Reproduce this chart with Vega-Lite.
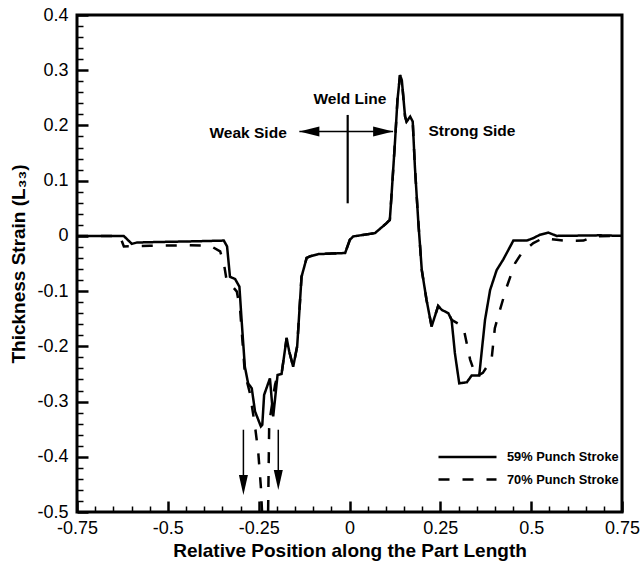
{
  "$schema": "https://vega.github.io/schema/vega-lite/v6.json",
  "width": 545,
  "height": 497,
  "autosize": {"type": "none"},
  "padding": {"left": 77, "top": 15, "right": 18, "bottom": 51},
  "config": {
    "font": "Liberation Sans",
    "view": {"stroke": "black", "strokeWidth": 3},
    "axis": {"grid": false, "domain": false, "ticks": true, "tickColor": "black", "tickOpacity": 1, "labelColor": "black", "titleColor": "black", "labelFont": "Liberation Sans", "titleFont": "Liberation Sans", "labelFlush": false, "zindex": 1}
  },
  "datasets": {
    "curves": [
      {"series": "59% Punch Stroke", "x": -0.75, "y": 0.0},
      {"series": "59% Punch Stroke", "x": -0.6215, "y": 0.0},
      {"series": "59% Punch Stroke", "x": -0.599, "y": -0.0145},
      {"series": "59% Punch Stroke", "x": -0.585, "y": -0.012},
      {"series": "59% Punch Stroke", "x": -0.522, "y": -0.011},
      {"series": "59% Punch Stroke", "x": -0.439, "y": -0.01},
      {"series": "59% Punch Stroke", "x": -0.346, "y": -0.0085},
      {"series": "59% Punch Stroke", "x": -0.337, "y": -0.019},
      {"series": "59% Punch Stroke", "x": -0.329, "y": -0.074},
      {"series": "59% Punch Stroke", "x": -0.315, "y": -0.078},
      {"series": "59% Punch Stroke", "x": -0.303, "y": -0.092},
      {"series": "59% Punch Stroke", "x": -0.297, "y": -0.152},
      {"series": "59% Punch Stroke", "x": -0.288, "y": -0.237},
      {"series": "59% Punch Stroke", "x": -0.279, "y": -0.267},
      {"series": "59% Punch Stroke", "x": -0.269, "y": -0.276},
      {"series": "59% Punch Stroke", "x": -0.26, "y": -0.318},
      {"series": "59% Punch Stroke", "x": -0.251, "y": -0.333},
      {"series": "59% Punch Stroke", "x": -0.244, "y": -0.345},
      {"series": "59% Punch Stroke", "x": -0.24, "y": -0.342},
      {"series": "59% Punch Stroke", "x": -0.235, "y": -0.288},
      {"series": "59% Punch Stroke", "x": -0.219, "y": -0.258},
      {"series": "59% Punch Stroke", "x": -0.21, "y": -0.327},
      {"series": "59% Punch Stroke", "x": -0.198, "y": -0.252},
      {"series": "59% Punch Stroke", "x": -0.187, "y": -0.25},
      {"series": "59% Punch Stroke", "x": -0.173, "y": -0.185},
      {"series": "59% Punch Stroke", "x": -0.166, "y": -0.209},
      {"series": "59% Punch Stroke", "x": -0.155, "y": -0.237},
      {"series": "59% Punch Stroke", "x": -0.144, "y": -0.2},
      {"series": "59% Punch Stroke", "x": -0.132, "y": -0.074},
      {"series": "59% Punch Stroke", "x": -0.118, "y": -0.04},
      {"series": "59% Punch Stroke", "x": -0.109, "y": -0.037},
      {"series": "59% Punch Stroke", "x": -0.086, "y": -0.033},
      {"series": "59% Punch Stroke", "x": -0.012, "y": -0.031},
      {"series": "59% Punch Stroke", "x": 0.001, "y": -0.007},
      {"series": "59% Punch Stroke", "x": 0.01, "y": -0.001},
      {"series": "59% Punch Stroke", "x": 0.07, "y": 0.005},
      {"series": "59% Punch Stroke", "x": 0.102, "y": 0.023},
      {"series": "59% Punch Stroke", "x": 0.111, "y": 0.029},
      {"series": "59% Punch Stroke", "x": 0.116, "y": 0.077},
      {"series": "59% Punch Stroke", "x": 0.125, "y": 0.168},
      {"series": "59% Punch Stroke", "x": 0.132, "y": 0.246},
      {"series": "59% Punch Stroke", "x": 0.139, "y": 0.291},
      {"series": "59% Punch Stroke", "x": 0.144, "y": 0.282},
      {"series": "59% Punch Stroke", "x": 0.153, "y": 0.216},
      {"series": "59% Punch Stroke", "x": 0.157, "y": 0.207},
      {"series": "59% Punch Stroke", "x": 0.167, "y": 0.216},
      {"series": "59% Punch Stroke", "x": 0.174, "y": 0.207},
      {"series": "59% Punch Stroke", "x": 0.18, "y": 0.125},
      {"series": "59% Punch Stroke", "x": 0.189, "y": 0.029},
      {"series": "59% Punch Stroke", "x": 0.199, "y": -0.062},
      {"series": "59% Punch Stroke", "x": 0.212, "y": -0.116},
      {"series": "59% Punch Stroke", "x": 0.226, "y": -0.164},
      {"series": "59% Punch Stroke", "x": 0.244, "y": -0.127},
      {"series": "59% Punch Stroke", "x": 0.254, "y": -0.134},
      {"series": "59% Punch Stroke", "x": 0.272, "y": -0.14},
      {"series": "59% Punch Stroke", "x": 0.281, "y": -0.152},
      {"series": "59% Punch Stroke", "x": 0.29, "y": -0.212},
      {"series": "59% Punch Stroke", "x": 0.302, "y": -0.267},
      {"series": "59% Punch Stroke", "x": 0.323, "y": -0.265},
      {"series": "59% Punch Stroke", "x": 0.336, "y": -0.253},
      {"series": "59% Punch Stroke", "x": 0.357, "y": -0.253},
      {"series": "59% Punch Stroke", "x": 0.373, "y": -0.152},
      {"series": "59% Punch Stroke", "x": 0.387, "y": -0.098},
      {"series": "59% Punch Stroke", "x": 0.405, "y": -0.062},
      {"series": "59% Punch Stroke", "x": 0.423, "y": -0.043},
      {"series": "59% Punch Stroke", "x": 0.451, "y": -0.0085},
      {"series": "59% Punch Stroke", "x": 0.488, "y": -0.0085},
      {"series": "59% Punch Stroke", "x": 0.506, "y": -0.004},
      {"series": "59% Punch Stroke", "x": 0.524, "y": 0.002},
      {"series": "59% Punch Stroke", "x": 0.547, "y": 0.006},
      {"series": "59% Punch Stroke", "x": 0.57, "y": 0.0},
      {"series": "59% Punch Stroke", "x": 0.69, "y": 0.001},
      {"series": "59% Punch Stroke", "x": 0.75, "y": 0.0},
      {"series": "70% Punch Stroke", "x": -0.75, "y": 0.0},
      {"series": "70% Punch Stroke", "x": -0.632, "y": 0.0},
      {"series": "70% Punch Stroke", "x": -0.621, "y": -0.019},
      {"series": "70% Punch Stroke", "x": -0.549, "y": -0.018},
      {"series": "70% Punch Stroke", "x": -0.45, "y": -0.017},
      {"series": "70% Punch Stroke", "x": -0.383, "y": -0.018},
      {"series": "70% Punch Stroke", "x": -0.356, "y": -0.028},
      {"series": "70% Punch Stroke", "x": -0.346, "y": -0.049},
      {"series": "70% Punch Stroke", "x": -0.339, "y": -0.077},
      {"series": "70% Punch Stroke", "x": -0.333, "y": -0.083},
      {"series": "70% Punch Stroke", "x": -0.31, "y": -0.101},
      {"series": "70% Punch Stroke", "x": -0.301, "y": -0.134},
      {"series": "70% Punch Stroke", "x": -0.288, "y": -0.249},
      {"series": "70% Punch Stroke", "x": -0.274, "y": -0.285},
      {"series": "70% Punch Stroke", "x": -0.26, "y": -0.345},
      {"series": "70% Punch Stroke", "x": -0.251, "y": -0.393},
      {"series": "70% Punch Stroke", "x": -0.244, "y": -0.454},
      {"series": "70% Punch Stroke", "x": -0.239, "y": -0.523},
      {"series": "70% Punch Stroke", "x": -0.231, "y": -0.532},
      {"series": "70% Punch Stroke", "x": -0.224, "y": -0.5},
      {"series": "70% Punch Stroke", "x": -0.221, "y": -0.339},
      {"series": "70% Punch Stroke", "x": -0.214, "y": -0.309},
      {"series": "70% Punch Stroke", "x": -0.205, "y": -0.27},
      {"series": "70% Punch Stroke", "x": -0.198, "y": -0.252},
      {"series": "70% Punch Stroke", "x": -0.187, "y": -0.25},
      {"series": "70% Punch Stroke", "x": -0.173, "y": -0.185},
      {"series": "70% Punch Stroke", "x": -0.166, "y": -0.209},
      {"series": "70% Punch Stroke", "x": -0.155, "y": -0.237},
      {"series": "70% Punch Stroke", "x": -0.144, "y": -0.2},
      {"series": "70% Punch Stroke", "x": -0.132, "y": -0.074},
      {"series": "70% Punch Stroke", "x": -0.118, "y": -0.04},
      {"series": "70% Punch Stroke", "x": -0.109, "y": -0.037},
      {"series": "70% Punch Stroke", "x": -0.086, "y": -0.033},
      {"series": "70% Punch Stroke", "x": -0.012, "y": -0.031},
      {"series": "70% Punch Stroke", "x": 0.001, "y": -0.007},
      {"series": "70% Punch Stroke", "x": 0.01, "y": -0.001},
      {"series": "70% Punch Stroke", "x": 0.07, "y": 0.005},
      {"series": "70% Punch Stroke", "x": 0.102, "y": 0.023},
      {"series": "70% Punch Stroke", "x": 0.111, "y": 0.029},
      {"series": "70% Punch Stroke", "x": 0.116, "y": 0.077},
      {"series": "70% Punch Stroke", "x": 0.125, "y": 0.168},
      {"series": "70% Punch Stroke", "x": 0.132, "y": 0.246},
      {"series": "70% Punch Stroke", "x": 0.139, "y": 0.291},
      {"series": "70% Punch Stroke", "x": 0.144, "y": 0.282},
      {"series": "70% Punch Stroke", "x": 0.153, "y": 0.216},
      {"series": "70% Punch Stroke", "x": 0.157, "y": 0.207},
      {"series": "70% Punch Stroke", "x": 0.167, "y": 0.216},
      {"series": "70% Punch Stroke", "x": 0.174, "y": 0.207},
      {"series": "70% Punch Stroke", "x": 0.18, "y": 0.125},
      {"series": "70% Punch Stroke", "x": 0.189, "y": 0.029},
      {"series": "70% Punch Stroke", "x": 0.199, "y": -0.062},
      {"series": "70% Punch Stroke", "x": 0.212, "y": -0.116},
      {"series": "70% Punch Stroke", "x": 0.226, "y": -0.164},
      {"series": "70% Punch Stroke", "x": 0.244, "y": -0.127},
      {"series": "70% Punch Stroke", "x": 0.254, "y": -0.134},
      {"series": "70% Punch Stroke", "x": 0.272, "y": -0.14},
      {"series": "70% Punch Stroke", "x": 0.281, "y": -0.152},
      {"series": "70% Punch Stroke", "x": 0.313, "y": -0.164},
      {"series": "70% Punch Stroke", "x": 0.332, "y": -0.224},
      {"series": "70% Punch Stroke", "x": 0.348, "y": -0.255},
      {"series": "70% Punch Stroke", "x": 0.367, "y": -0.248},
      {"series": "70% Punch Stroke", "x": 0.391, "y": -0.224},
      {"series": "70% Punch Stroke", "x": 0.4, "y": -0.167},
      {"series": "70% Punch Stroke", "x": 0.414, "y": -0.134},
      {"series": "70% Punch Stroke", "x": 0.433, "y": -0.092},
      {"series": "70% Punch Stroke", "x": 0.456, "y": -0.049},
      {"series": "70% Punch Stroke", "x": 0.474, "y": -0.031},
      {"series": "70% Punch Stroke", "x": 0.506, "y": -0.013},
      {"series": "70% Punch Stroke", "x": 0.533, "y": -0.004},
      {"series": "70% Punch Stroke", "x": 0.57, "y": -0.007},
      {"series": "70% Punch Stroke", "x": 0.598, "y": -0.009},
      {"series": "70% Punch Stroke", "x": 0.644, "y": -0.0085},
      {"series": "70% Punch Stroke", "x": 0.671, "y": -0.001},
      {"series": "70% Punch Stroke", "x": 0.75, "y": 0.0}
    ],
    "labels": [
      {"label": "Weak Side", "x": -0.279, "y": 0.186},
      {"label": "Weld Line", "x": 0.001, "y": 0.248},
      {"label": "Strong Side", "x": 0.337, "y": 0.19}
    ],
    "shafts": [
      {"x": -0.138, "y": 0.189, "x2": 0.12, "y2": 0.189},
      {"x": -0.292, "y": -0.351, "x2": -0.292, "y2": -0.45},
      {"x": -0.196, "y": -0.351, "x2": -0.196, "y2": -0.44}
    ],
    "weld": [
      {"x": -0.005, "y": 0.219, "x2": -0.005, "y2": 0.059}
    ],
    "heads": [
      {"dir": "left", "x": -0.138, "y": 0.189},
      {"dir": "right", "x": 0.12, "y": 0.189},
      {"dir": "down", "x": -0.292, "y": -0.469},
      {"dir": "down", "x": -0.196, "y": -0.46}
    ]
  },
  "layer": [
    {
      "data": {"name": "curves"},
      "mark": {"type": "line", "color": "black", "strokeWidth": 2.5, "clip": true},
      "encoding": {
        "x": {
          "field": "x", "type": "quantitative",
          "scale": {"domain": [-0.75, 0.75], "nice": false, "zero": false},
          "axis": {
            "orient": "bottom",
            "values": [-0.75, -0.5, -0.25, 0, 0.25, 0.5, 0.75],
            "labelExpr": "'' + datum.value",
            "offset": -11, "tickSize": 11, "tickWidth": 2.5,
            "labelFontSize": 18, "labelPadding": 7, "labelOverlap": false,
            "title": "Relative Position along the Part Length",
            "titleFontSize": 19, "titleFontWeight": "bold", "titlePadding": 4
          }
        },
        "y": {
          "field": "y", "type": "quantitative",
          "scale": {"domain": [-0.5, 0.4], "nice": false, "zero": false},
          "axis": {
            "orient": "left",
            "values": [-0.5, -0.4, -0.3, -0.2, -0.1, 0, 0.1, 0.2, 0.3, 0.4],
            "labelExpr": "'' + datum.value",
            "offset": -11, "tickSize": 11, "tickWidth": 2.5,
            "labelFontSize": 18, "labelPadding": 9, "labelOverlap": false,
            "title": "Thickness Strain (L₃₃)",
            "titleFontSize": 19, "titleFontWeight": "bold", "titlePadding": 8
          }
        },
        "strokeDash": {
          "field": "series", "type": "nominal",
          "scale": {"domain": ["59% Punch Stroke", "70% Punch Stroke"], "range": [[1, 0], [11, 13]]},
          "legend": {
            "orient": "none", "legendX": 360, "legendY": 435,
            "title": null,
            "symbolType": "stroke", "symbolSize": 3364, "symbolStrokeWidth": 2.5,
            "symbolStrokeColor": "black",
            "clipHeight": 14, "rowPadding": 8.6,
            "labelFont": "Liberation Sans", "labelFontWeight": "bold", "labelFontSize": 12.8,
            "labelColor": "black", "labelOffset": 9
          }
        }
      }
    },
    {
      "data": {"name": "labels"},
      "mark": {"type": "text", "font": "Liberation Sans", "fontWeight": "bold", "fontSize": 15.5, "color": "black", "align": "center", "baseline": "middle"},
      "encoding": {
        "x": {
          "field": "x", "type": "quantitative",
          "axis": {
            "orient": "bottom",
            "values": [-0.7, -0.65, -0.6, -0.55, -0.45, -0.4, -0.35, -0.3, -0.2, -0.15, -0.1, -0.05, 0.05, 0.1, 0.15, 0.2, 0.3, 0.35, 0.4, 0.45, 0.55, 0.6, 0.65, 0.7],
            "labels": false, "title": null, "offset": -6, "tickSize": 6, "tickWidth": 1.5
          }
        },
        "y": {
          "field": "y", "type": "quantitative",
          "axis": {
            "orient": "left",
            "values": [-0.48, -0.46, -0.44, -0.42, -0.38, -0.36, -0.34, -0.32, -0.28, -0.26, -0.24, -0.22, -0.18, -0.16, -0.14, -0.12, -0.08, -0.06, -0.04, -0.02, 0.02, 0.04, 0.06, 0.08, 0.12, 0.14, 0.16, 0.18, 0.22, 0.24, 0.26, 0.28, 0.32, 0.34, 0.36, 0.38],
            "labels": false, "title": null, "offset": -6, "tickSize": 6, "tickWidth": 1.5
          }
        },
        "text": {"field": "label", "type": "nominal"}
      }
    },
    {
      "data": {"name": "shafts"},
      "mark": {"type": "rule", "color": "black", "strokeWidth": 1.5},
      "encoding": {
        "x": {"field": "x", "type": "quantitative", "axis": null},
        "y": {"field": "y", "type": "quantitative", "axis": null},
        "x2": {"field": "x2"},
        "y2": {"field": "y2"}
      }
    },
    {
      "data": {"name": "weld"},
      "mark": {"type": "rule", "color": "black", "strokeWidth": 2.2},
      "encoding": {
        "x": {"field": "x", "type": "quantitative", "axis": null},
        "y": {"field": "y", "type": "quantitative", "axis": null},
        "x2": {"field": "x2"},
        "y2": {"field": "y2"}
      }
    },
    {
      "data": {"name": "heads"},
      "mark": {"type": "point", "filled": true, "color": "black", "opacity": 1, "size": 400, "strokeWidth": 0},
      "encoding": {
        "x": {"field": "x", "type": "quantitative", "axis": null},
        "y": {"field": "y", "type": "quantitative", "axis": null},
        "shape": {
          "field": "dir", "type": "nominal",
          "scale": {"domain": ["left", "right", "down"], "range": ["M0,0 L2,-0.5 L2,0.5 Z", "M0,0 L-2,-0.5 L-2,0.5 Z", "M0,0 L-0.45,-2 L0.45,-2 Z"]},
          "legend": null
        }
      }
    }
  ],
  "resolve": {"axis": {"x": "independent", "y": "independent"}}
}
